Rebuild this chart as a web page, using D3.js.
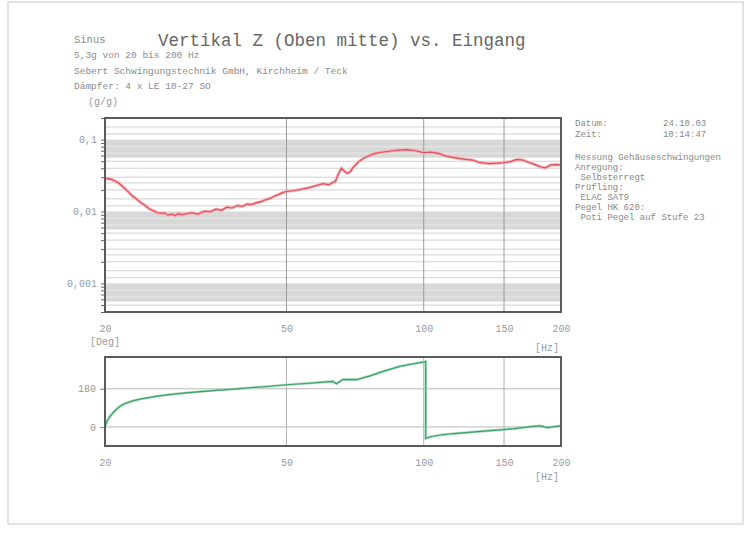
<!DOCTYPE html>
<html>
<head>
<meta charset="utf-8">
<script src="https://cdn.jsdelivr.net/npm/d3@7"></script>
<style>
  body { margin: 0; background: #fff; }
  svg text { font-family: "Liberation Mono", "DejaVu Sans Mono", monospace; }
</style>
</head>
<body>
<div id="chart"></div>
<script>
var freqTicks = [20, 50, 100, 150, 200];
var gainTicks = [0.1, 0.01, 0.001];
var phaseTicks = [180, 0];

var gainFreq = [20, 20.5, 21, 21.5, 22, 22.5, 23, 23.5, 24, 24.5, 25, 25.5, 26, 26.5, 27, 27.5, 28, 28.5, 29, 29.5,
    30, 31, 32, 33, 34, 35, 36, 37, 38, 39, 40, 41, 42, 43, 44, 45, 46, 47, 48, 49,
    50, 52, 54, 56, 58, 60, 62, 63, 64, 65, 66, 67, 68, 69, 70, 72, 74, 76, 78, 80,
    84, 88, 92, 96, 100, 104, 108, 112, 116, 120, 124, 128, 132, 136, 140, 145, 150, 155, 160, 165,
    170, 175, 180, 185, 190, 195, 200];
var gainValue = [0.0290, 0.0285, 0.0268, 0.0245, 0.0215, 0.0188, 0.0163, 0.0148, 0.0132, 0.0121, 0.0109, 0.0103, 0.0097, 0.0094, 0.0096, 0.0089, 0.0092, 0.0088, 0.0094, 0.0090,
    0.0093, 0.0096, 0.0092, 0.0101, 0.0099, 0.0108, 0.0104, 0.0115, 0.0112, 0.0121, 0.0118, 0.0127, 0.0125, 0.0133, 0.0137, 0.0146, 0.0152, 0.0163, 0.0172, 0.0183,
    0.0190, 0.0196, 0.0204, 0.0215, 0.0228, 0.0244, 0.0236, 0.0252, 0.0262, 0.0335, 0.0400, 0.0362, 0.0340, 0.0358, 0.0410, 0.0495, 0.0556, 0.0602, 0.0640, 0.0662,
    0.0690, 0.0715, 0.0725, 0.0700, 0.0660, 0.0670, 0.0640, 0.0590, 0.0565, 0.0545, 0.0530, 0.0520, 0.0485, 0.0470, 0.0465, 0.0470, 0.0480, 0.0495, 0.0530, 0.0520,
    0.0480, 0.0452, 0.0420, 0.0405, 0.0445, 0.0450, 0.0445];

var phaseFreq = [20, 20.1, 20.3, 20.6, 21, 21.5, 22, 23, 24, 26, 28, 30.2, 33, 35.7, 39, 42.2, 46, 50, 55, 59.2,
    63.2, 64.4, 66.5, 71.3, 76, 81.4, 88.7, 95, 99.8, 101, 101, 104, 108.6, 116, 124, 135, 147, 158, 168, 174,
    180, 187, 193, 200];
var phaseValue = [0, 15, 35, 55, 75, 95, 108, 123, 132, 145, 154, 161, 168, 174, 180, 186, 192, 199, 205, 210,
    215, 204, 224, 223, 240, 262, 286, 298, 306, 309, -54, -45, -38, -32, -27, -20, -14, -8, -1, 3,
    5, -3, 1, 5];

var headerLines = ["5,3g von 20 bis 200 Hz", "Sebert Schwingungstechnik GmbH, Kirchheim / Teck", "Dämpfer: 4 x LE 10-27 SO"];
var infoLines = ["Messung Gehäuseschwingungen", "Anregung:", " Selbsterregt", "Prüfling:", " ELAC SAT9", "Pegel HK 620:", " Poti Pegel auf Stufe 23"];

var svgWidth = 748;
var svgHeight = 533;
var plotLeft = 105, plotRight = 561;
var gainTop = 118, gainBottom = 312;
var phaseTop = 357, phaseBottom = 446;

var svg = d3.select("#chart")
    .append("svg")
    .attr("width", svgWidth)
    .attr("height", svgHeight);

// Blattrand
svg.append("rect")
    .attr("x", 8).attr("y", 2)
    .attr("width", 735).attr("height", 522)
    .attr("fill", "#fff")
    .attr("stroke", "#c8c8c8");

var xScale = d3.scaleLog().domain([20, 200]).range([plotLeft, plotRight]);
var yGain = d3.scaleLog().domain([0.0004, 0.2]).range([gainBottom, gainTop]);
var yPhase = d3.scaleLinear().domain([-90, 330]).range([phaseBottom, phaseTop]);

// Kopf
svg.append("text").attr("x", 74).attr("y", 43)
    .attr("font-size", 10.5).attr("fill", "#888").text("Sinus");
svg.append("text").attr("x", 158).attr("y", 46)
    .attr("font-size", 17.5).attr("fill", "#666").text("Vertikal Z (Oben mitte) vs. Eingang");
svg.selectAll(".head").data(headerLines).enter()
    .append("text")
    .attr("x", 74)
    .attr("y", (d, i) => 58 + i * 15.5)
    .attr("font-size", 9.5)
    .attr("fill", "#8a8a8a")
    .text(d => d);
svg.append("text").attr("x", 88).attr("y", 105)
    .attr("font-size", 10).attr("fill", "#999").text("(g/g)");

// rechte Infospalte
svg.append("text").attr("x", 575).attr("y", 126).attr("font-size", 9).attr("fill", "#888").text("Datum:");
svg.append("text").attr("x", 663).attr("y", 126).attr("font-size", 9).attr("fill", "#888").text("24.10.03");
svg.append("text").attr("x", 575).attr("y", 136.5).attr("font-size", 9).attr("fill", "#888").text("Zeit:");
svg.append("text").attr("x", 663).attr("y", 136.5).attr("font-size", 9).attr("fill", "#888").text("10:14:47");
svg.selectAll(".info").data(infoLines).enter()
    .append("text")
    .attr("x", 575)
    .attr("y", (d, i) => 160 + i * 10)
    .attr("font-size", 9)
    .attr("fill", "#888")
    .attr("xml:space", "preserve")
    .style("white-space", "pre")
    .text(d => d);

// ---------- Amplitudengang ----------
var gainGroup = svg.append("g");

// graue Bänder (dichte Gitterlinien im Original)
var decades = [0.1, 0.01, 0.001];
gainGroup.selectAll(".band").data(decades).enter()
    .append("rect")
    .attr("x", plotLeft)
    .attr("width", plotRight - plotLeft)
    .attr("y", d => yGain(d))
    .attr("height", d => yGain(d * 0.56) - yGain(d))
    .attr("fill", "#d8d8d8");

var minorGrid = [];
[0.1, 0.01, 0.001, 0.0001].forEach(function(d) {
    [1.2, 1.5, 2, 2.5, 3, 4, 5, 6.5, 8].forEach(function(m) {
        var v = d * m;
        if (v > 0.0004 && v < 0.2) minorGrid.push(v);
    });
});
gainGroup.selectAll(".hgrid").data(minorGrid).enter()
    .append("line")
    .attr("x1", plotLeft).attr("x2", plotRight)
    .attr("y1", d => yGain(d)).attr("y2", d => yGain(d))
    .attr("stroke", d => (d / Math.pow(10, Math.floor(Math.log10(d) + 1e-9)) > 5.5) ? "#ececec" : "#c4c4c4")
    .attr("stroke-width", 0.8);

gainGroup.selectAll(".vgrid").data([50, 100, 150]).enter()
    .append("line")
    .attr("x1", d => xScale(d)).attr("x2", d => xScale(d))
    .attr("y1", gainTop).attr("y2", gainBottom)
    .attr("stroke", "#9a9a9a")
    .attr("stroke-width", 1);

var gainLine = d3.line()
    .x((d, i) => xScale(gainFreq[i]))
    .y(d => yGain(d));

gainGroup.append("path")
    .attr("d", gainLine(gainValue))
    .attr("fill", "none")
    .attr("stroke", "#f4b0b5")
    .attr("stroke-width", 3);
gainGroup.append("path")
    .attr("d", gainLine(gainValue))
    .attr("fill", "none")
    .attr("stroke", "#e5505c")
    .attr("stroke-width", 1.2);

gainGroup.append("rect")
    .attr("x", plotLeft).attr("y", gainTop)
    .attr("width", plotRight - plotLeft).attr("height", gainBottom - gainTop)
    .attr("fill", "none")
    .attr("stroke", "#5a5a5a")
    .attr("stroke-width", 2);

// y-Achse mit kleinen Teilstrichen
var allTicks = [];
[0.1, 0.01, 0.001, 0.0001].forEach(function(d) {
    [1, 2, 3, 4, 5, 6, 7, 8, 9].forEach(function(m) {
        var v = d * m;
        if (v >= 0.0004 && v <= 0.2) allTicks.push(v);
    });
});
var leftAxis = d3.axisLeft(yGain)
    .tickValues(allTicks)
    .tickSize(3)
    .tickPadding(4)
    .tickFormat(d => gainTicks.some(t => Math.abs(t - d) < t * 1e-6) ? String(d).replace(".", ",") : "");
var gAxis = svg.append("g")
    .attr("transform", `translate(${plotLeft - 1}, 0)`)
    .call(leftAxis);
gAxis.select(".domain").remove();
gAxis.selectAll("line").attr("stroke", "#666");
gAxis.selectAll("text").attr("fill", "#999").attr("font-size", 10)
    .attr("font-family", "Liberation Mono, monospace");

var bottomAxis = d3.axisBottom(xScale)
    .tickValues(freqTicks)
    .tickSize(0)
    .tickPadding(13)
    .tickFormat(d3.format("d"));
var xAxisTop = svg.append("g")
    .attr("transform", `translate(0, ${gainBottom})`)
    .call(bottomAxis);
xAxisTop.select(".domain").remove();
xAxisTop.selectAll("text").attr("fill", "#999").attr("font-size", 10)
    .attr("font-family", "Liberation Mono, monospace");

svg.append("text").attr("x", 90).attr("y", 345)
    .attr("font-size", 10).attr("fill", "#999").text("[Deg]");
svg.append("text").attr("x", 535).attr("y", 351)
    .attr("font-size", 10).attr("fill", "#999").text("[Hz]");

// ---------- Phasengang ----------
var phaseGroup = svg.append("g");

phaseGroup.selectAll(".hgrid").data(phaseTicks).enter()
    .append("line")
    .attr("x1", plotLeft).attr("x2", plotRight)
    .attr("y1", d => yPhase(d)).attr("y2", d => yPhase(d))
    .attr("stroke", "#b8b8b8")
    .attr("stroke-width", 1);
phaseGroup.selectAll(".vgrid").data([50, 100, 150]).enter()
    .append("line")
    .attr("x1", d => xScale(d)).attr("x2", d => xScale(d))
    .attr("y1", phaseTop).attr("y2", phaseBottom)
    .attr("stroke", "#b0b0b0")
    .attr("stroke-width", 1);

var phaseLine = d3.line()
    .x((d, i) => xScale(phaseFreq[i]))
    .y(d => yPhase(d));

phaseGroup.append("path")
    .attr("d", phaseLine(phaseValue))
    .attr("fill", "none")
    .attr("stroke", "#a6e0be")
    .attr("stroke-width", 2.6);
phaseGroup.append("path")
    .attr("d", phaseLine(phaseValue))
    .attr("fill", "none")
    .attr("stroke", "#3f9e68")
    .attr("stroke-width", 1.2);

phaseGroup.append("rect")
    .attr("x", plotLeft).attr("y", phaseTop)
    .attr("width", plotRight - plotLeft).attr("height", phaseBottom - phaseTop)
    .attr("fill", "none")
    .attr("stroke", "#5a5a5a")
    .attr("stroke-width", 2);

var phaseAxis = d3.axisLeft(yPhase)
    .tickValues(phaseTicks)
    .tickSize(4)
    .tickPadding(4);
var pAxis = svg.append("g")
    .attr("transform", `translate(${plotLeft - 1}, 0)`)
    .call(phaseAxis);
pAxis.select(".domain").remove();
pAxis.selectAll("line").attr("stroke", "#888");
pAxis.selectAll("text").attr("fill", "#999").attr("font-size", 10)
    .attr("font-family", "Liberation Mono, monospace");

var xAxisBottom = svg.append("g")
    .attr("transform", `translate(0, ${phaseBottom})`)
    .call(bottomAxis);
xAxisBottom.select(".domain").remove();
xAxisBottom.selectAll("text").attr("fill", "#999").attr("font-size", 10)
    .attr("font-family", "Liberation Mono, monospace");

svg.append("text").attr("x", 535).attr("y", 480)
    .attr("font-size", 10).attr("fill", "#999").text("[Hz]");
</script>
</body>
</html>
